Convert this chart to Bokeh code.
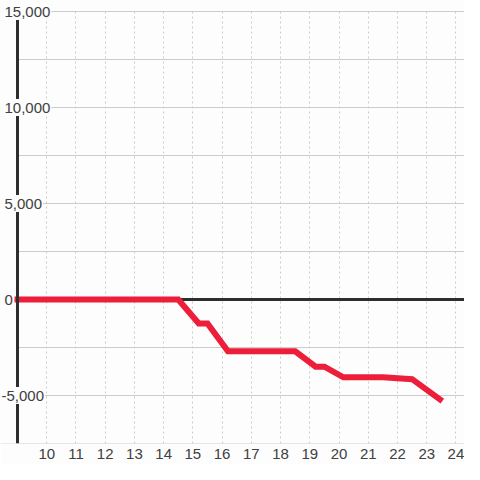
from bokeh.plotting import figure
from bokeh.models import Range1d, FixedTicker, Label, BoxAnnotation
from bokeh.embed import file_html
from bokeh.resources import INLINE

# ---- data ----
hours = [9, 14.5, 15.2, 15.5, 16.2, 18.5, 19.2, 19.5, 20.15, 21.5, 22.5, 23.45]
values = [0, 0, -1250, -1250, -2700, -2700, -3500, -3500, -4050, -4050, -4150, -5200]

x_ticks = [10, 11, 12, 13, 14, 15, 16, 17, 18, 19, 20, 21, 22, 23, 24]
y_grid = [-7500, -5000, -2500, 0, 2500, 5000, 7500, 10000, 12500, 15000]
y_label_values = [-5000, 0, 5000, 10000, 15000]
y_label_texts = ["-5,000", "0", "5,000", "10,000", "15,000"]

BG = "#fcfdfc"
RED = "#ec1e3a"
DARK = "#2e2e2e"
TEXT = "#404040"
GRID = "#cccccc"
FONT = "Liberation Sans"

# layout (pixels)
W, H = 464, 464
BOTTOM = 21
FRAME_H = H - BOTTOM
AXIS_PX = 17          # where x=9 sits
PX_PER_HOUR = 29.23
TOP_PX = 11           # where y=15000 sits
PX_PER_UNIT_Y = 96 / 5000
LABEL_HALF_PX = 8.5   # half height of a y label box

x0 = 9 - AXIS_PX / PX_PER_HOUR
x1 = x0 + W / PX_PER_HOUR
y1 = 15000 + TOP_PX / PX_PER_UNIT_Y
y0 = y1 - FRAME_H / PX_PER_UNIT_Y

p = figure(width=W, height=H, output_backend="svg", toolbar_location=None,
           x_range=Range1d(x0, x1), y_range=Range1d(y0, y1),
           min_border_left=0, min_border_right=0, min_border_top=0, min_border_bottom=BOTTOM)
p.background_fill_color = BG
p.border_fill_color = BG
p.outline_line_color = None

# grids
p.ygrid.ticker = FixedTicker(ticks=y_grid)
p.ygrid.grid_line_color = GRID
p.ygrid.grid_line_width = 1
p.xgrid.ticker = FixedTicker(ticks=x_ticks)
p.xgrid.grid_line_color = GRID
p.xgrid.grid_line_width = 1
p.xgrid.grid_line_dash = "2 3"

# hide grid outside the plotting area (left of axis, above top gridline)
p.add_layout(BoxAnnotation(right=9, fill_color=BG, fill_alpha=1, line_color=None, level="underlay"))
p.add_layout(BoxAnnotation(bottom=15000 + 1 / PX_PER_UNIT_Y, fill_color=BG, fill_alpha=1,
                           line_color=None, level="underlay"))

# axes
p.yaxis.visible = False
xa = p.xaxis[0]
xa.ticker = FixedTicker(ticks=x_ticks)
xa.axis_line_color = None
xa.major_tick_line_color = None
xa.minor_tick_line_color = None
xa.major_tick_out = 0
xa.major_tick_in = 0
xa.major_label_standoff = 5
xa.major_label_text_font = FONT
xa.major_label_text_font_size = "15px"
xa.major_label_text_color = TEXT

# zero line (below the data line), from the axis rightwards
p.segment(x0=[9], y0=[0], x1=[x1], y1=[0], line_color=DARK, line_width=3)

# data line
p.line(hours, values, line_color=RED, line_width=6, line_join="miter", line_cap="square")

# left axis line, interrupted where the wide y labels sit
gap = LABEL_HALF_PX / PX_PER_UNIT_Y
cuts = sorted(v for v, t in zip(y_label_values, y_label_texts) if len(t) > 1)
seg_y0 = [y0] + [c + gap for c in cuts[:-1]]
seg_y1 = [c - gap for c in cuts]
p.segment(x0=[9] * len(seg_y0), y0=seg_y0, x1=[9] * len(seg_y0), y1=seg_y1,
          line_color=DARK, line_width=3)

# y labels with background that interrupts the grid
for v, t in zip(y_label_values, y_label_texts):
    lab = Label(x=0 if v < 0 else 3, y=v, x_units="screen", y_units="data",
                text=t, text_font=FONT, text_font_size="15px", text_color=TEXT,
                text_align="left", text_baseline="middle",
                background_fill_color=BG, background_fill_alpha=1.0, padding=1)
    p.add_layout(lab)

open("out.html", "w").write(file_html(p, INLINE))
